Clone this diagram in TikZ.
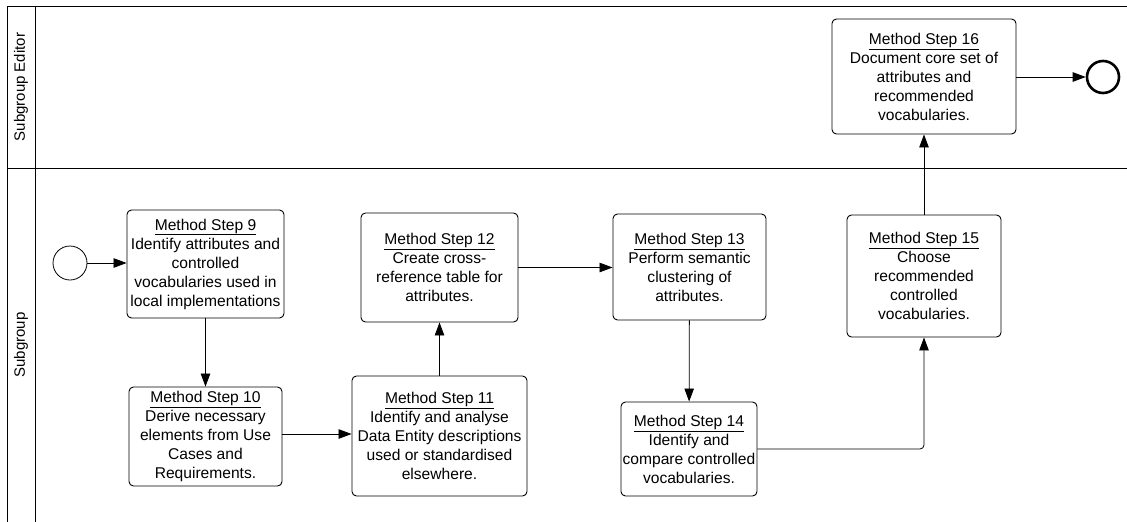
\documentclass[tikz,border=0pt]{standalone}
\usepackage{fontspec}
\setmainfont{Liberation Sans}
\usetikzlibrary{arrows.meta}
\begin{document}
\begin{tikzpicture}[x=1pt,y=-1pt,
  task/.style={draw, line width=0.9pt, rounded corners=4.5pt, align=center,
    font=\fontsize{15.6}{19}\selectfont, inner sep=0pt},
  flow/.style={line width=0.8pt, -{Triangle[length=13pt,width=9.5pt]}},
  lanelabel/.style={rotate=90, font=\fontsize{15}{18}\selectfont},
  lane/.style={line width=1pt}]
\useasboundingbox (0,0) rectangle (1127,522);
% pool / lanes
\draw[lane] (7,522) -- (7,6) -- (1127,6);
\draw[lane] (35,6) -- (35,522);
\draw[lane] (7,168) -- (1127,168);
\node[lanelabel] (l1) at (21,87) {Subgroup Editor};
\node[lanelabel] (l2) at (21,345) {Subgroup};
% events
\node[draw, circle, line width=0.8pt, minimum size=34pt, inner sep=0pt] (start) at (70,263) {};
\node[draw, circle, line width=2.6pt, minimum size=32pt, inner sep=0pt] (end) at (1103,77) {};
% tasks
\node[task, minimum width=157pt, minimum height=108pt] (s9) at (205.5,264)
  {\underline{Method Step 9}\\Identify attributes and\\controlled\\vocabularies used in\\local implementations};
\node[task, minimum width=153pt, minimum height=99pt] (s10) at (205.5,436.5)
  {\underline{Method Step 10}\\Derive necessary\\elements from Use\\Cases and\\Requirements.};
\node[task, minimum width=175pt, minimum height=120pt] (s11) at (439.5,436)
  {\underline{Method Step 11}\\Identify and analyse\\Data Entity descriptions\\used or standardised\\elsewhere.};
\node[task, minimum width=157pt, minimum height=109pt] (s12) at (439.5,267.5)
  {\underline{Method Step 12}\\Create cross-\\reference table for\\attributes.};
\node[task, minimum width=153pt, minimum height=106pt] (s13) at (689.5,267)
  {\underline{Method Step 13}\\Perform semantic\\clustering of\\attributes.};
\node[task, minimum width=136pt, minimum height=94pt] (s14) at (689,449)
  {\underline{Method Step 14}\\Identify and\\compare controlled\\vocabularies.};
\node[task, minimum width=154pt, minimum height=122pt] (s15) at (924,276)
  {\underline{Method Step 15}\\Choose\\recommended\\controlled\\vocabularies.};
\node[task, minimum width=184pt, minimum height=115pt] (s16) at (924,76.5)
  {\underline{Method Step 16}\\Document core set of\\attributes and\\recommended\\vocabularies.};
\coordinate (c1) at (924,449);
% flows
\draw[flow] (start) -- (s9.west |- start);
\draw[flow] (s9) -- (s10);
\draw[flow] (s10.east |- 0,434) -- (s11.west |- 0,434);
\draw[flow] (s11) -- (s12);
\draw[flow] (s12) -- (s13.west |- s12);
\draw[flow] (s13) -- (s14);
\draw[flow, rounded corners=4pt] (s14.east |- c1) -- (c1) -- (s15.south);
\draw[flow] (s15) -- (s16);
\draw[flow] (s16.east |- end) -- (end);
\end{tikzpicture}
\end{document}
